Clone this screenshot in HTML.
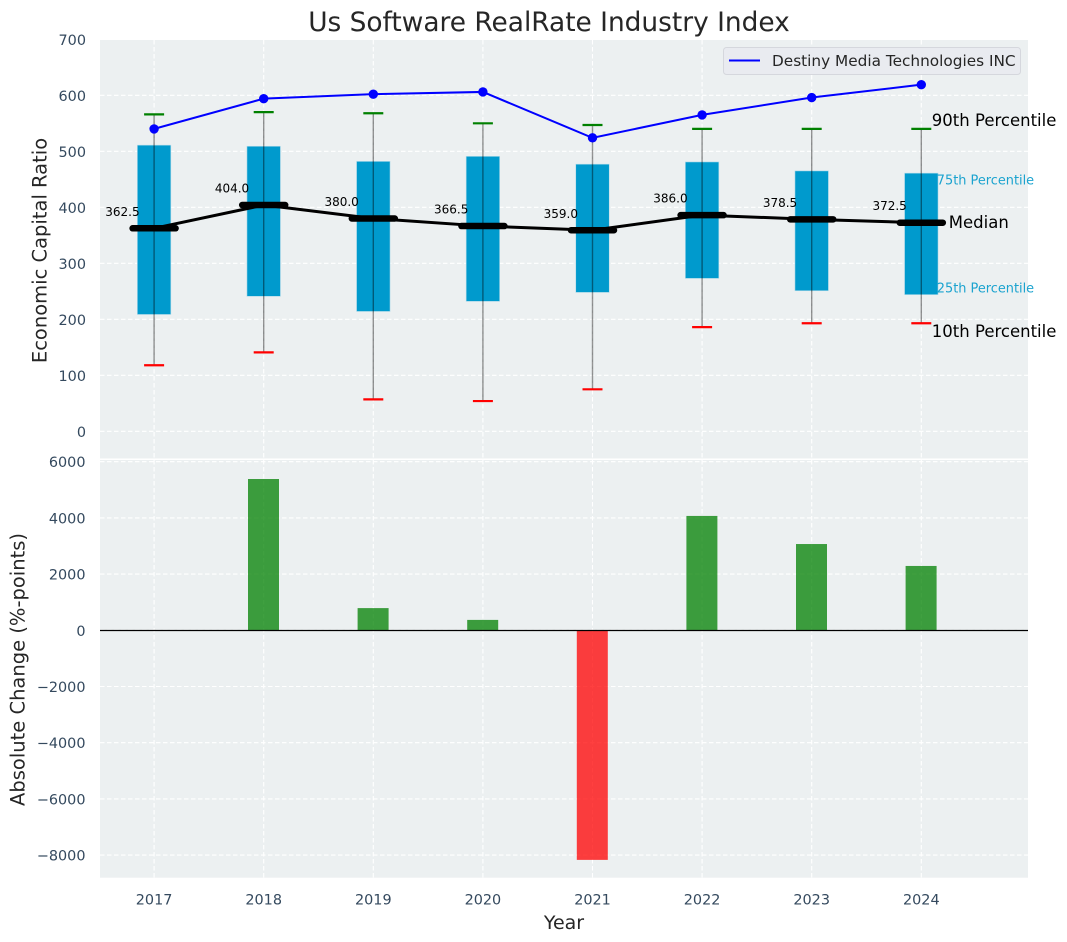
<!DOCTYPE html>
<html lang="en">
<head>
<meta charset="utf-8">
<title>Us Software RealRate Industry Index</title>
<style>
html,body{margin:0;padding:0;background:#fff;}
svg{display:block;font-family:"DejaVu Sans","Liberation Sans",sans-serif;}
</style>
</head>
<body>
<svg id="chart" xmlns="http://www.w3.org/2000/svg" width="1067" height="942" viewBox="0 0 1067 942">
  <text x="549" y="31" text-anchor="middle" font-size="26.4" fill="#262626">Us Software RealRate Industry Index</text>
  <rect x="100" y="40" width="928" height="418.5" fill="#ecf0f1"/>
  <rect x="100" y="460" width="928" height="417.7" fill="#ecf0f1"/>
  <g id="grid"></g>
  <g id="marks"></g>
  <g id="ticks"></g>
  <text transform="translate(46.5,250.5) rotate(-90)" text-anchor="middle" font-size="19.5" fill="#262626">Economic Capital Ratio</text>
  <text transform="translate(24.5,669.5) rotate(-90)" text-anchor="middle" font-size="19.5" fill="#262626">Absolute Change (%-points)</text>
  <text x="564" y="929" text-anchor="middle" font-size="19" fill="#262626">Year</text>
  <g>
    <rect x="723.5" y="47.5" width="297" height="27" rx="3" fill="#e9ebf0" stroke="#d5d7dd" stroke-width="1"/>
    <line x1="729" y1="60.5" x2="760" y2="60.5" stroke="#0000ff" stroke-width="2"/>
    <text x="772" y="66" font-size="15.3" fill="#262626">Destiny Media Technologies INC</text>
  </g>
</svg>
<script>
const years = [2017, 2018, 2019, 2020, 2021, 2022, 2023, 2024];
const companyRatio = [540, 594, 602, 606, 524, 565, 596, 619];
const p90 = [566, 570, 568, 550, 547, 540, 540, 540];
const p75 = [511, 509, 482, 491, 477, 481, 465, 461];
const medians = [362.5, 404, 380, 366.5, 359, 386, 378.5, 372.5];
const p25 = [208.6, 241, 214, 232, 248, 273, 251, 244];
const p10 = [118, 141, 57, 54, 75, 186, 193, 193];
const absChange = [0, 5384, 790, 370, -8170, 4070, 3070, 2290];
const topTicks = [0, 100, 200, 300, 400, 500, 600, 700];
const bottomTicks = [-8000, -6000, -4000, -2000, 0, 2000, 4000, 6000];

const NS = 'http://www.w3.org/2000/svg';
const gridG = document.getElementById('grid');
const marksG = document.getElementById('marks');
const ticksG = document.getElementById('ticks');

function xScale(year) { return 154.1 + (year - 2017) * 109.6; }
function yTop(v) { return 431.3 - v * 0.56; }
function yBottom(v) { return 630.3 - v * 0.0281; }

function make(tag, parent, attrs) {
  const el = document.createElementNS(NS, tag);
  for (const k in attrs) el.setAttribute(k, attrs[k]);
  parent.appendChild(el);
  return el;
}
function fmt(v) { return String(v).replace('-', '\u2212'); }

const gridStyle = { stroke: '#ffffff', 'stroke-width': 1.1, 'stroke-dasharray': '4.5 2.5', fill: 'none' };

years.forEach(function (yr) {
  const a = make('line', gridG, Object.assign({ x1: xScale(yr), x2: xScale(yr), y1: 40, y2: 458.5 }, gridStyle));
  
  
  const b = make('line', gridG, Object.assign({ x1: xScale(yr), x2: xScale(yr), y1: 460, y2: 877.7 }, gridStyle));
  
  
  const t = make('text', ticksG, { x: xScale(yr), y: 904.5, 'text-anchor': 'middle', 'font-size': 14.4, fill: '#34495e' });
  t.textContent = yr;
  
  
});

topTicks.forEach(function (v) {
  const l = make('line', gridG, Object.assign({ x1: 100, x2: 1028, y1: yTop(v), y2: yTop(v) }, gridStyle));
  
  
  const t = make('text', ticksG, { x: 86, y: yTop(v) + 5.5, 'text-anchor': 'end', 'font-size': 14.4, fill: '#34495e' });
  t.textContent = fmt(v);
  
  
});

bottomTicks.forEach(function (v) {
  const l = make('line', gridG, Object.assign({ x1: 100, x2: 1028, y1: yBottom(v), y2: yBottom(v) }, gridStyle));
  
  
  const t = make('text', ticksG, { x: 85.5, y: yBottom(v) + 5.5, 'text-anchor': 'end', 'font-size': 14.4, fill: '#34495e' });
  t.textContent = fmt(v);
  
  
});

const BOX_W = 33.5, CAP = 10, MED = 21.5, BAR_W = 32;

years.forEach(function (yr, i) {
  const cx = xScale(yr);
  const box = make('rect', marksG, {
    x: cx - BOX_W / 2, y: yTop(p75[i]), width: BOX_W, height: yTop(p25[i]) - yTop(p75[i]),
    fill: '#009acd', stroke: '#b5dcea', 'stroke-width': 0.6
  });
  
  

  const w = make('line', marksG, {
    x1: cx, x2: cx, y1: yTop(p90[i]), y2: yTop(p10[i]),
    stroke: '#000000', 'stroke-opacity': 0.42, 'stroke-width': 1.4
  });
  
  

  const hi = make('line', marksG, {
    x1: cx - CAP, x2: cx + CAP, y1: yTop(p90[i]), y2: yTop(p90[i]),
    stroke: '#008000', 'stroke-width': 2.2
  });
  
  

  const lo = make('line', marksG, {
    x1: cx - CAP, x2: cx + CAP, y1: yTop(p10[i]), y2: yTop(p10[i]),
    stroke: '#ff0000', 'stroke-width': 2.2
  });
  
  
});

const medianPath = make('polyline', marksG, {
  points: years.map(function (yr, i) { return xScale(yr) + ',' + yTop(medians[i]); }).join(' '),
  fill: 'none', stroke: '#000000', 'stroke-width': 3
});



const companyPath = make('polyline', marksG, {
  points: years.map(function (yr, i) { return xScale(yr) + ',' + yTop(companyRatio[i]); }).join(' '),
  fill: 'none', stroke: '#0000ff', 'stroke-width': 2
});



years.forEach(function (yr, i) {
  const cx = xScale(yr);
  const seg = make('line', marksG, {
    x1: cx - MED, x2: cx + MED, y1: yTop(medians[i]), y2: yTop(medians[i]),
    stroke: '#000000', 'stroke-width': 6.5, 'stroke-linecap': 'round'
  });
  
  

  const lab = make('text', marksG, {
    x: cx - 14.5, y: yTop(medians[i]) - 12.5, 'text-anchor': 'end', 'font-size': 12, fill: '#000000'
  });
  lab.textContent = medians[i].toFixed(1);
  
  

  const dot = make('circle', marksG, { cx: cx, cy: yTop(companyRatio[i]), r: 4.7, fill: '#0000ff' });
  
  

  const v = absChange[i];
  if (v !== 0) {
    const bar = make('rect', marksG, {
      x: cx - BAR_W / 2 + 0.3, y: Math.min(yBottom(v), yBottom(0)), width: BAR_W - 1,
      height: Math.abs(yBottom(v) - yBottom(0)),
      fill: v > 0 ? '#008000' : '#ff0000', 'fill-opacity': 0.75
    });
    
    
  }
});

const zero = make('line', marksG, { x1: 100, x2: 1028, y1: yBottom(0) + 0.2, y2: yBottom(0) + 0.2, stroke: '#000000', 'stroke-width': 1.2 });



const last = years.length - 1;
const lastX = xScale(years[last]);

const a90 = make('text', marksG, { x: lastX + 10.5, y: yTop(p90[last]) - 3, 'font-size': 16.5, fill: '#000000' });
a90.textContent = '90th Percentile';



const a75 = make('text', marksG, { x: lastX + 15.5, y: yTop(p75[last]) + 11.3, 'font-size': 12.9, fill: '#1ba3cf' });
a75.textContent = '75th Percentile';



const aMed = make('text', marksG, { x: lastX + 27.5, y: yTop(medians[last]) + 5.5, 'font-size': 16.5, fill: '#000000' });
aMed.textContent = 'Median';



const a25 = make('text', marksG, { x: lastX + 15.5, y: yTop(p25[last]) - 2.2, 'font-size': 12.9, fill: '#1ba3cf' });
a25.textContent = '25th Percentile';



const a10 = make('text', marksG, { x: lastX + 10.5, y: yTop(p10[last]) + 14, 'font-size': 16.5, fill: '#000000' });
a10.textContent = '10th Percentile';


</script>
</body>
</html>
